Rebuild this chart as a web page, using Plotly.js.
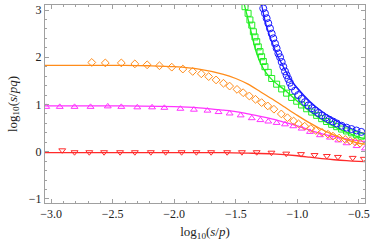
<!DOCTYPE html>
<html><head><meta charset="utf-8">
<script src="https://cdn.plot.ly/plotly-3.0.1.min.js"></script>
<style>html,body{margin:0;padding:0;background:#fff}#chart{width:374px;height:247px}</style>
</head><body><div id="chart"></div>
<script>
// Orange (diamonds) data and model curve
const orangeX = [-2.67,-2.56,-2.43,-2.32,-2.22,-2.12,-2.02,-1.93,-1.85,-1.78,-1.72,-1.66,-1.60,-1.55,-1.49,-1.44,-1.39,-1.34,-1.29,-1.24,-1.19,-1.13,-1.08,-1.03,-0.99,-0.94,-0.89,-0.85,-0.80,-0.75,-0.71,-0.66,-0.61,-0.57,-0.53,-0.49];
const orangeY = [1.89,1.88,1.88,1.86,1.84,1.82,1.79,1.75,1.70,1.65,1.59,1.52,1.45,1.39,1.32,1.25,1.18,1.11,1.04,0.97,0.90,0.80,0.72,0.65,0.59,0.54,0.49,0.45,0.41,0.37,0.33,0.29,0.26,0.23,0.21,0.18];
const orangeLineX = [-3.05,-2.4,-2.2,-2.0,-1.8,-1.6,-1.5,-1.4,-1.3,-1.2,-1.1,-1.0,-0.9,-0.8,-0.7,-0.6,-0.5,-0.45];
const orangeLineY = [1.83,1.83,1.82,1.80,1.75,1.64,1.55,1.43,1.27,1.11,0.94,0.77,0.61,0.47,0.35,0.25,0.18,0.16];

// Magenta (up triangles)
const magentaX = [-3.04,-2.93,-2.81,-2.68,-2.54,-2.43,-2.30,-2.18,-2.08,-1.95,-1.84,-1.73,-1.64,-1.55,-1.46,-1.37,-1.30,-1.236,-1.168,-1.10,-1.033,-0.965,-0.897,-0.816,-0.735,-0.667,-0.60,-0.518,-0.45];
const magentaY = [0.95,0.95,0.95,0.95,0.96,0.95,0.94,0.94,0.93,0.91,0.89,0.87,0.84,0.81,0.77,0.71,0.67,0.64,0.61,0.58,0.54,0.49,0.42,0.35,0.30,0.24,0.18,0.12,0.07];
const magentaLineX = [-3.05,-2.4,-2.0,-1.8,-1.6,-1.5,-1.4,-1.3,-1.2,-1.1,-1.0,-0.9,-0.8,-0.7,-0.6,-0.5,-0.45];
const magentaLineY = [0.97,0.97,0.955,0.93,0.88,0.85,0.80,0.75,0.69,0.62,0.55,0.46,0.38,0.32,0.27,0.23,0.22];

// Red (down triangles)
const redX = [-2.91,-2.81,-2.69,-2.57,-2.44,-2.32,-2.19,-2.07,-1.94,-1.82,-1.70,-1.57,-1.45,-1.33,-1.21,-1.09,-0.97,-0.86,-0.76,-0.67,-0.55,-0.46];
const redY = [0.03,-0.01,-0.01,-0.01,-0.01,-0.01,-0.01,-0.01,-0.01,-0.01,-0.01,-0.01,-0.01,-0.01,-0.02,-0.04,-0.05,-0.07,-0.09,-0.11,-0.13,-0.15];
const redLineX = [-3.05,-1.6,-1.4,-1.2,-1.0,-0.9,-0.8,-0.7,-0.6,-0.5,-0.45];
const redLineY = [-0.02,-0.02,-0.03,-0.045,-0.085,-0.115,-0.145,-0.17,-0.19,-0.205,-0.21];

// Green (squares)
const greenX = [-1.425,-1.40,-1.385,-1.37,-1.357,-1.344,-1.33,-1.317,-1.303,-1.29,-1.276,-1.263,-1.236,-1.208,-1.168,-1.127,-1.087,-1.046,-1.005,-0.965,-0.924,-0.883,-0.843,-0.802,-0.762,-0.721,-0.68,-0.64,-0.60,-0.56,-0.52,-0.48];
const greenY = [3.07,2.93,2.79,2.68,2.54,2.43,2.33,2.22,2.12,2.01,1.91,1.80,1.68,1.55,1.43,1.33,1.24,1.15,1.07,0.99,0.91,0.84,0.77,0.70,0.64,0.58,0.53,0.48,0.44,0.40,0.36,0.33];
const greenLineX = [-1.43,-1.385,-1.344,-1.30,-1.25,-1.2,-1.1,-1.0,-0.9,-0.8,-0.7,-0.6,-0.5,-0.45];
const greenLineY = [3.11,2.65,2.2,1.88,1.66,1.51,1.30,1.07,0.86,0.68,0.53,0.41,0.31,0.28];

// Blue (circles)
const blueX = [-1.277,-1.263,-1.249,-1.236,-1.222,-1.208,-1.195,-1.181,-1.168,-1.154,-1.14,-1.127,-1.114,-1.10,-1.087,-1.073,-1.06,-1.046,-1.019,-0.992,-0.965,-0.938,-0.91,-0.883,-0.856,-0.829,-0.80,-0.77,-0.74,-0.71,-0.68,-0.64,-0.60,-0.56,-0.52,-0.48];
const blueY = [3.035,2.93,2.825,2.72,2.61,2.50,2.40,2.29,2.19,2.08,2.0,1.90,1.80,1.70,1.62,1.54,1.46,1.38,1.29,1.20,1.12,1.05,0.98,0.92,0.87,0.82,0.77,0.72,0.68,0.64,0.60,0.55,0.51,0.48,0.45,0.42];
const blueLineX = [-1.29,-1.25,-1.18,-1.114,-1.06,-1.0,-0.9,-0.8,-0.7,-0.6,-0.5,-0.45];
const blueLineY = [3.11,2.65,2.15,1.80,1.555,1.35,1.07,0.85,0.68,0.54,0.42,0.38];

const xTickVals = [-3.0,-2.5,-2.0,-1.5,-1.0,-0.5];
const xTickText = ['\u22123.0','\u22122.5','\u22122.0','\u22121.5','\u22121.0','\u22120.5'];
const yTickVals = [-1,0,1,2,3];
const yTickText = ['\u22121','0','1','2','3'];

const C = {orange:'#ff8c1a', magenta:'#ff33ff', red:'#ff2a2a', green:'#22ee22', blue:'#1a1aff'};

function line(x,y,c){return {x:x,y:y,type:'scatter',mode:'lines',line:{color:c,width:1.3,shape:'spline',smoothing:0.8},hoverinfo:'skip'};}
function pts(x,y,c,sym,sz){return {x:x,y:y,type:'scatter',mode:'markers',marker:{symbol:sym,size:sz,color:c,line:{color:c,width:1}},cliponaxis:true};}

const traces = [
  line(redLineX, redLineY, C.red),
  line(magentaLineX, magentaLineY, C.magenta),
  line(orangeLineX, orangeLineY, C.orange),
  line(greenLineX, greenLineY, C.green),
  line(blueLineX, blueLineY, C.blue),
  pts(redX, redY, C.red, 'triangle-down-open', 6),
  pts(magentaX, magentaY, C.magenta, 'triangle-up-open', 6),
  pts(orangeX, orangeY, C.orange, 'diamond-open', 6),
  pts(greenX, greenY, C.green, 'square-open', 6),
  pts(blueX, blueY, C.blue, 'circle-open', 7)
];

const axisCommon = {
  showgrid:false, zeroline:false, showline:true, linecolor:'#a0a0a0', linewidth:1, mirror:'allticks',
  ticks:'inside', ticklen:4, tickwidth:1, tickcolor:'#a0a0a0',
  tickfont:{family:'Liberation Serif, Times New Roman, serif', size:12, color:'#222'},
};

const layout = {
  width:374, height:247,
  margin:{l:45, r:9, t:5, b:44},
  paper_bgcolor:'#fff', plot_bgcolor:'#fff',
  showlegend:false,
  font:{family:'Liberation Serif, Times New Roman, serif', size:12, color:'#222'},
  xaxis: Object.assign({}, axisCommon, {
    range:[-3.05,-0.45], tickvals:xTickVals, ticktext:xTickText,
    minor:{ticks:'inside', ticklen:2, dtick:0.1, tick0:0, tickcolor:'#a0a0a0', showgrid:false},
    title:{text:'log<sub>10</sub>(<i>s</i>/<i>p</i>)', font:{family:'Liberation Serif, serif', size:13, color:'#222'}, standoff:6}
  }),
  yaxis: Object.assign({}, axisCommon, {
    range:[-1.085,3.106], tickvals:yTickVals, ticktext:yTickText,
    minor:{ticks:'inside', ticklen:2, dtick:0.2, tick0:0, tickcolor:'#a0a0a0', showgrid:false},
    title:{text:'log<sub>10</sub>(<i>s</i>/<i>pq</i>)', font:{family:'Liberation Serif, serif', size:13, color:'#222'}, standoff:8}
  })
};

Plotly.newPlot('chart', traces, layout, {staticPlot:true, displayModeBar:false});
</script>
</body></html>
